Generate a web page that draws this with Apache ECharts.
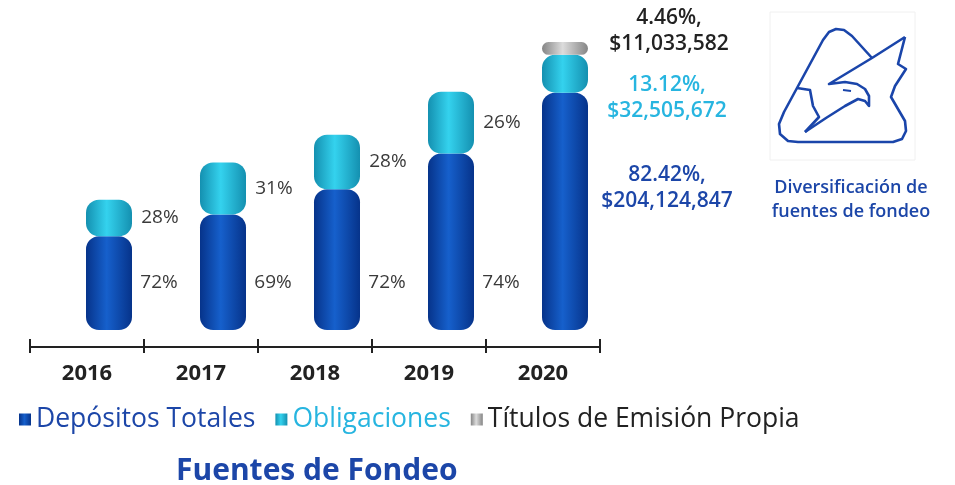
<!DOCTYPE html>
<html>
<head>
<meta charset="utf-8">
<script src="https://cdn.jsdelivr.net/npm/echarts@6/dist/echarts.min.js"></script>
<style>
  html, body { margin: 0; padding: 0; background: #fff; }
  #chart { width: 955px; height: 485px; }
</style>
</head>
<body>
<div id="chart"></div>
<script>
// datos (millones de pesos; 2020 exactos)
var years = ['2016', '2017', '2018', '2019', '2020'];
var depositos = [80.6, 99.4, 121.0, 151.7, 204.124847];
var obligaciones = [31.4, 44.6, 47.0, 53.3, 32.505672];
var titulos = [0, 0, 0, 0, 11.033582];
var depPct = ['72%', '69%', '72%', '74%', '82.42%'];
var oblPct = ['28%', '31%', '28%', '26%', '13.12%'];
var titPct = ['', '', '', '', '4.46%'];
var depMonto = ['', '', '', '', '$204,124,847'];
var oblMonto = ['', '', '', '', '$32,505,672'];
var titMonto = ['', '', '', '', '$11,033,582'];

var FONT = '"Open Sans"';
var AZUL = '#1c46a8';
var CIAN = '#27b5e0';

function grad(edge, mid) {
	return new echarts.graphic.LinearGradient(0, 0, 1, 0, [
		{offset: 0, color: edge},
		{offset: 0.45, color: mid},
		{offset: 1, color: edge}
	]);
}

function bigLabel(color, pos) {
	return {
		show: true,
		position: pos,
		offset: [0, 0],
		align: 'center',
		verticalAlign: 'middle',
		color: color,
		fontSize: 21,
		fontWeight: 600,
		fontFamily: FONT,
		lineHeight: 26
	};
}

function mkData(values, pct, monto, color, pos) {
	return values.map(function (v, i) {
		if (monto[i]) {
			var lb = bigLabel(color, pos);
			lb.formatter = pct[i] + ',\n' + monto[i];
			return {value: v, label: lb};
		}
		return {value: v};
	});
}

var smallLabel = {
	show: true,
	align: 'left',
	verticalAlign: 'middle',
	color: '#3a3a3a',
	fontSize: 19,
	fontWeight: 400,
	fontFamily: FONT
};

var myChart = echarts.init(document.getElementById('chart'));

var logoStroke = {stroke: '#1a45aa', lineWidth: 2.6, fill: null, lineJoin: 'round'};

var option = {
	animation: false,
	title: {
		text: 'Fuentes de Fondeo',
		left: 171,
		top: 451,
		textStyle: {color: AZUL, fontSize: 30, fontWeight: 'bold', fontFamily: FONT}
	},
	legend: {
		left: 14,
		top: 401,
		icon: 'rect',
		itemWidth: 12,
		itemHeight: 12,
		itemGap: 20,
		textStyle: {fontSize: 26.5, fontFamily: FONT},
		data: [
			{name: 'Depósitos Totales', textStyle: {color: AZUL}},
			{name: 'Obligaciones', textStyle: {color: CIAN}},
			{name: 'Títulos de Emisión Propia', textStyle: {color: '#222'}}
		]
	},
	grid: [
		{left: 30, right: 355, top: 30, bottom: 138},
		{left: 52, right: 333, top: 30, bottom: 155}
	],
	xAxis: [
		{
			type: 'category', gridIndex: 0, data: years,
			axisLine: {lineStyle: {color: '#222', width: 2}},
			axisTick: {show: true, length: 6, lineStyle: {color: '#222', width: 2}},
			axisLabel: {color: '#222', fontSize: 22, fontWeight: 'bold', fontFamily: FONT, margin: 16}
		},
		{
			type: 'category', gridIndex: 0, data: years, position: 'bottom',
			axisLine: {show: false},
			axisTick: {show: true, inside: true, length: 8, lineStyle: {color: '#222', width: 2}},
			axisLabel: {show: false}
		},
		{
			type: 'category', gridIndex: 1, data: years, show: false
		}
	],
	yAxis: [
		{type: 'value', gridIndex: 0, show: false},
		{type: 'value', gridIndex: 1, show: false, min: 0, max: 258}
	],
	series: [
		{
			name: 'Depósitos Totales', type: 'bar', stack: 'f', xAxisIndex: 2, yAxisIndex: 1,
			barWidth: 46,
			itemStyle: {color: grad('#06338a', '#1660cc'), borderRadius: 13},
			label: Object.assign({}, smallLabel, {
				position: ['118%', '100%'], offset: [0, -47],
				formatter: function (p) { return depPct[p.dataIndex]; }
			}),
			data: mkData(depositos, depPct, depMonto, AZUL, [125, 95])
		},
		{
			name: 'Obligaciones', type: 'bar', stack: 'f', xAxisIndex: 2, yAxisIndex: 1,
			barWidth: 46,
			itemStyle: {color: grad('#1490b0', '#34d2ee'), borderRadius: 13},
			label: Object.assign({}, smallLabel, {
				position: ['120%', '50%'],
				formatter: function (p) { return oblPct[p.dataIndex]; }
			}),
			data: mkData(obligaciones, oblPct, oblMonto, CIAN, [125, 43])
		},
		{
			name: 'Títulos de Emisión Propia', type: 'bar', stack: 'f', xAxisIndex: 2, yAxisIndex: 1,
			barWidth: 46,
			itemStyle: {color: grad('#858585', '#dcdcdc'), borderRadius: 9},
			label: {show: false},
			data: mkData(titulos, titPct, titMonto, '#222', [127, -11])
		}
	],
	graphic: [
		{type: 'rect', shape: {x: 770, y: 12, width: 145, height: 148}, style: {fill: '#fff', stroke: '#f0f0f0', lineWidth: 1}},
		// contorno de la montaña y ala derecha
		{type: 'polyline', shape: {points: [[872,58],[852,36],[844,30],[836,29],[829,32],[823,40],[797,88],[784,112],[779,124],[780,134],[788,141],[798,142],[893,142],[902,139],[906,131],[905,121],[891,97],[895,86],[906,69],[898,64],[905,37]]},
			style: logoStroke},
		// ala superior, cabeza y cuello
		{type: 'polyline', shape: {points: [[905,37],[872,58],[829,84],[845,82],[857,84],[865,89],[869,96],[869,106],[865,101],[858,99],[845,106],[826,118],[805,132]]},
			style: logoStroke},
		// ala inferior izquierda
		{type: 'polyline', shape: {points: [[797,88],[810,90],[813,106],[819,117],[805,132]]},
			style: logoStroke},
		{type: 'polyline', shape: {points: [[843,90],[851,91]]},
			style: {stroke: '#1a45aa', lineWidth: 2, fill: null}},
		{type: 'text', x: 851, y: 200,
			style: {text: 'Diversificación de\nfuentes de fondeo', fill: AZUL, align: 'center', verticalAlign: 'middle',
				font: '600 18px "Open Sans"', lineHeight: 24}}
	]
};
myChart.setOption(option);
</script>
</body>
</html>
